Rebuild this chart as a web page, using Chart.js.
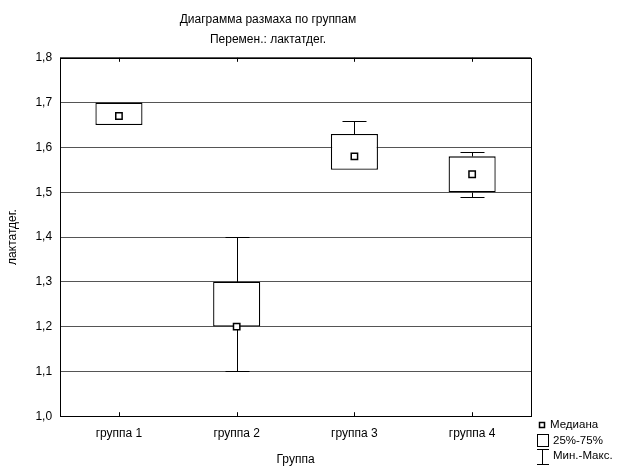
<!DOCTYPE html>
<html>
<head>
<meta charset="utf-8">
<script src="https://cdn.jsdelivr.net/npm/chart.js@4.4.1/dist/chart.umd.min.js"></script>
<style>
  body { margin: 0; background: #fff; }
  #wrap { width: 622px; height: 467px; }
</style>
</head>
<body>
<div id="wrap"><canvas id="chart"></canvas></div>
<script>
const groups = ['группа 1', 'группа 2', 'группа 3', 'группа 4'];
const q1 = [1.65, 1.20, 1.55, 1.50];
const q3 = [1.70, 1.30, 1.63, 1.58];
const medians = [1.67, 1.20, 1.58, 1.54];
const mins = [1.65, 1.10, 1.55, 1.49];
const maxs = [1.70, 1.40, 1.66, 1.59];
const legendLabels = ['Медиана', '25%-75%', 'Мин.-Макс.'];

const FONT = 'Liberation Sans, Arial, sans-serif';

// whiskers, frame, inner ticks and the little legend
const boxExtras = {
  id: 'boxExtras',
  beforeDatasetsDraw(chart) {
    const { ctx, scales: { x, y } } = chart;
    ctx.save();
    ctx.strokeStyle = '#000';
    ctx.lineWidth = 1;
    for (let i = 0; i < groups.length; i++) {
      const cx = Math.round(x.getPixelForValue(i)) + 0.5;
      const segs = [[mins[i], q1[i]], [q3[i], maxs[i]]];
      segs.forEach(([a, b]) => {
        if (a === b) return;
        const ya = Math.round(y.getPixelForValue(a)) + 0.5;
        const yb = Math.round(y.getPixelForValue(b)) + 0.5;
        ctx.beginPath();
        ctx.moveTo(cx, ya);
        ctx.lineTo(cx, yb);
        ctx.stroke();
      });
      [mins[i], maxs[i]].forEach(v => {
        if (v === q1[i] || v === q3[i]) return;
        const yy = Math.round(y.getPixelForValue(v)) + 0.5;
        ctx.beginPath();
        ctx.moveTo(cx - 12, yy);
        ctx.lineTo(cx + 12, yy);
        ctx.stroke();
      });
    }
    ctx.restore();
  },
  afterDraw(chart) {
    const { ctx, chartArea: a, scales: { x } } = chart;
    ctx.save();
    ctx.strokeStyle = '#000';
    ctx.lineWidth = 1;
    ctx.strokeRect(Math.round(a.left) + 0.5, Math.round(a.top) + 0.5,
      Math.round(a.right - a.left), Math.round(a.bottom - a.top));
    for (let i = 0; i < groups.length; i++) {
      const cx = Math.round(x.getPixelForValue(i)) + 0.5;
      ctx.beginPath();
      ctx.moveTo(cx, a.top); ctx.lineTo(cx, a.top + 4);
      ctx.moveTo(cx, a.bottom); ctx.lineTo(cx, a.bottom - 4);
      ctx.stroke();
    }
    // legend
    ctx.fillStyle = '#000';
    ctx.font = '11.5px ' + FONT;
    ctx.textBaseline = 'middle';
    ctx.lineWidth = 1.5;
    ctx.strokeRect(539.5, 422.5, 5, 5);
    ctx.fillText(legendLabels[0], 550, 425);
    ctx.lineWidth = 1;
    ctx.strokeRect(537.5, 434.5, 11, 12);
    ctx.fillText(legendLabels[1], 553, 441);
    ctx.beginPath();
    ctx.moveTo(537, 449.5); ctx.lineTo(549, 449.5);
    ctx.moveTo(542.5, 449.5); ctx.lineTo(542.5, 464.5);
    ctx.moveTo(537, 464.5); ctx.lineTo(549, 464.5);
    ctx.stroke();
    ctx.fillText(legendLabels[2], 553, 456);
    ctx.restore();
  }
};

new Chart(document.getElementById('chart'), {
  type: 'bar',
  data: {
    labels: groups,
    datasets: [
      {
        type: 'line',
        label: 'Медиана',
        data: medians,
        showLine: false,
        pointStyle: 'rect',
        pointRadius: 4.5,
        pointBackgroundColor: '#fff',
        pointBorderColor: '#000',
        pointBorderWidth: 1.5,
        order: 0
      },
      {
        label: '25%-75%',
        data: groups.map((g, i) => [q1[i], q3[i]]),
        backgroundColor: '#fff',
        borderColor: '#000',
        borderWidth: 1.3,
        borderSkipped: false,
        barPercentage: 0.4,
        categoryPercentage: 1,
        order: 1
      }
    ]
  },
  options: {
    responsive: true,
    maintainAspectRatio: false,
    animation: false,
    layout: { padding: { top: 5, right: 91, bottom: 0, left: 5 } },
    plugins: {
      legend: { display: false },
      tooltip: { enabled: false },
      title: {
        display: true,
        text: 'Диаграмма размаха по группам',
        color: '#000',
        font: { family: FONT, size: 12, weight: 'normal' },
        padding: { top: 7, bottom: 6 }
      },
      subtitle: {
        display: true,
        text: 'Перемен.: лактатдег.',
        color: '#000',
        font: { family: FONT, size: 12, weight: 'normal' },
        padding: { top: 0, bottom: 11 }
      }
    },
    scales: {
      x: {
        grid: { display: false, drawTicks: false },
        border: { display: false },
        ticks: { color: '#000', font: { family: FONT, size: 12 }, padding: 10 },
        title: {
          display: true,
          text: 'Группа',
          color: '#000',
          font: { family: FONT, size: 12 },
          padding: { top: 2, bottom: 0 }
        }
      },
      y: {
        min: 1.0,
        max: 1.8,
        grid: { color: '#555', drawTicks: false },
        border: { display: false },
        ticks: {
          stepSize: 0.1,
          color: '#000',
          font: { family: FONT, size: 12 },
          padding: 8,
          callback: v => v.toFixed(1).replace('.', ',')
        },
        title: {
          display: true,
          text: 'лактатдег.',
          color: '#000',
          font: { family: FONT, size: 12 },
          padding: { top: 0, bottom: 8 }
        }
      }
    }
  },
  plugins: [boxExtras]
});
</script>
</body>
</html>
